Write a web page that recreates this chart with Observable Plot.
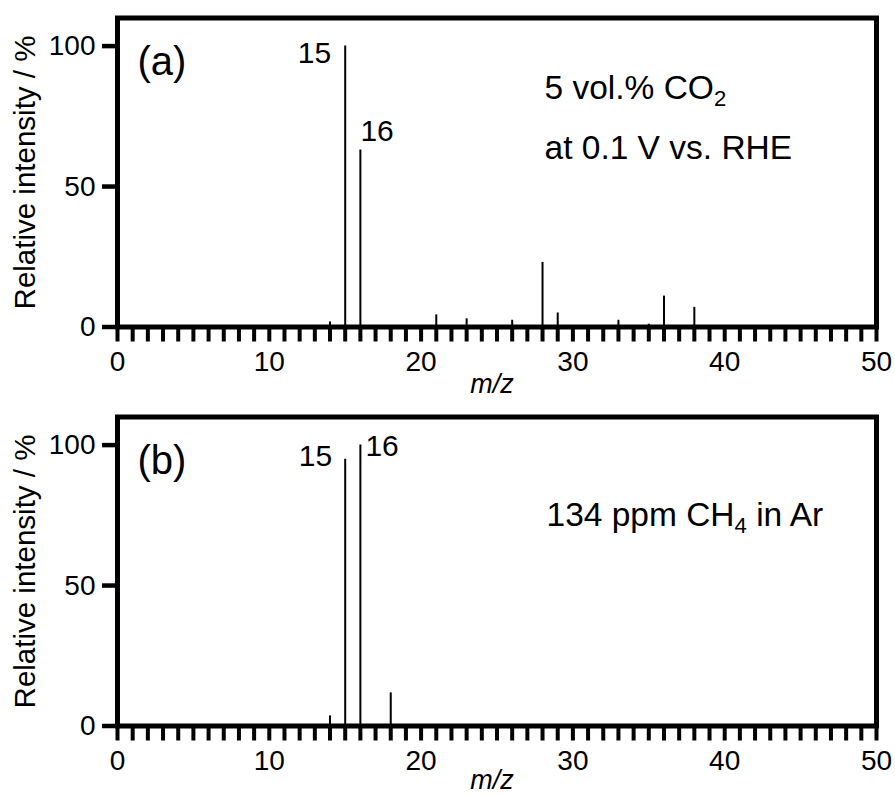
<!DOCTYPE html>
<html>
<head>
<meta charset="utf-8">
<script src="https://cdn.jsdelivr.net/npm/d3@7"></script>
<script src="https://cdn.jsdelivr.net/npm/@observablehq/plot@0.6"></script>
<style>
  html, body { margin: 0; padding: 0; background: #fff; }
  #chart svg { display: block; }
</style>
</head>
<body>
<div id="chart"></div>
<script>
// ---- Data ----
const mzA = [14, 15, 16, 21, 23, 26, 28, 29, 33, 35, 36, 38];
const intensityA = [1.8, 100, 63, 4.3, 2.9, 2.4, 23, 5, 2.4, 1, 11, 7];
const mzB = [14, 15, 16, 18];
const intensityB = [3.6, 95, 100, 11.8];

const xTicks = d3.range(0, 51);          // minor ticks every 1 m/z
const xTickLabels = [0, 10, 20, 30, 40, 50];
const yTicks = [0, 50, 100];

const panelLabels = ["(a)", "(b)"];
const notesA = ["5 vol.% CO_2", "at 0.1 V vs. RHE"];
const notesB = ["134 ppm CH_4 in Ar"];
const yLabel = "Relative intensity / %";
const xLabel = "m/z";

const FONT = "'Liberation Sans', Arial, Helvetica, sans-serif";

function applySubscripts(svg) {
  svg.querySelectorAll("text, tspan").forEach(el => {
    if (el.children.length) return;
    const s = el.textContent;
    if (!/_\d/.test(s)) return;
    el.textContent = "";
    s.split(/_(\d)/).forEach((p, i) => {
      if (!p) return;
      if (i % 2) {
        const t = document.createElementNS("http://www.w3.org/2000/svg", "tspan");
        t.setAttribute("baseline-shift", "-0.3em");
        t.setAttribute("font-size", "0.66em");
        t.textContent = p;
        el.appendChild(t);
      } else {
        el.appendChild(document.createTextNode(p));
      }
    });
  });
}

function panel({mz, intensity, height, marginBottom, label, notes, peakMarks, xLabelDy}) {
  const data = mz.map((m, i) => ({mz: m, intensity: intensity[i]}));
  const svg = Plot.plot({
    width: 895,
    height,
    marginLeft: 117,
    marginRight: 19,
    marginTop: 17.5,
    marginBottom,
    style: {fontFamily: FONT, background: "white", color: "black", overflow: "visible"},
    x: {domain: [0, 50], label: null},
    y: {domain: [0, 110], label: null},
    marks: [
      Plot.ruleX(data, {x: "mz", y1: 0, y2: "intensity", stroke: "black", strokeWidth: 2}),
      Plot.axisX({ticks: xTicks, tickSize: 15, strokeWidth: 4, tickFormat: () => "", label: null}),
      Plot.axisX({ticks: xTickLabels, tickSize: 0, tickPadding: 24, fontSize: 28, label: null}),
      Plot.axisY({ticks: yTicks, tickSize: 15, strokeWidth: 4.5, tickPadding: 7, fontSize: 28, label: null}),
      Plot.frame({stroke: "black", strokeWidth: 5}),
      Plot.text([yLabel], {text: d => d, frameAnchor: "left", dx: -92, rotate: -90,
        textAnchor: "middle", lineAnchor: "middle", fontSize: 29.5}),
      Plot.text([xLabel], {text: d => d, frameAnchor: "bottom", dx: -5, dy: xLabelDy,
        lineAnchor: "middle", fontSize: 27, fontStyle: "italic"}),
      Plot.text([label], {text: d => d, frameAnchor: "top-left", dx: 20, dy: 57,
        textAnchor: "start", lineAnchor: "bottom", fontSize: 40}),
      ...notes.map(n => Plot.text([n.text], {text: d => d, frameAnchor: "top-left", dx: n.dx, dy: n.dy,
        textAnchor: "start", lineAnchor: "bottom", fontSize: 33.5})),
      ...peakMarks.map(p => Plot.text(data.filter(d => d.mz === p.mz), {
        x: "mz", y: "intensity", text: d => String(d.mz),
        textAnchor: p.anchor, lineAnchor: "bottom", dx: p.dx, dy: p.dy, fontSize: 30}))
    ]
  });
  applySubscripts(svg);
  return svg;
}

const chart = document.getElementById("chart");
chart.appendChild(panel({
  mz: mzA, intensity: intensityA, height: 399, marginBottom: 72.5, label: panelLabels[0], xLabelDy: 57,
  notes: [{text: notesA[0], dx: 427, dy: 81}, {text: notesA[1], dx: 427, dy: 141}],
  peakMarks: [{mz: 15, anchor: "end", dx: -14, dy: 17}, {mz: 16, anchor: "start", dx: 0, dy: -9}]
}));
chart.appendChild(panel({
  mz: mzB, intensity: intensityB, height: 397, marginBottom: 70.5, label: panelLabels[1], xLabelDy: 54,
  notes: [{text: notesB[0], dx: 429, dy: 109}],
  peakMarks: [{mz: 15, anchor: "end", dx: -13, dy: 7}, {mz: 16, anchor: "start", dx: 5, dy: 11}]
}));
</script>
</body>
</html>
